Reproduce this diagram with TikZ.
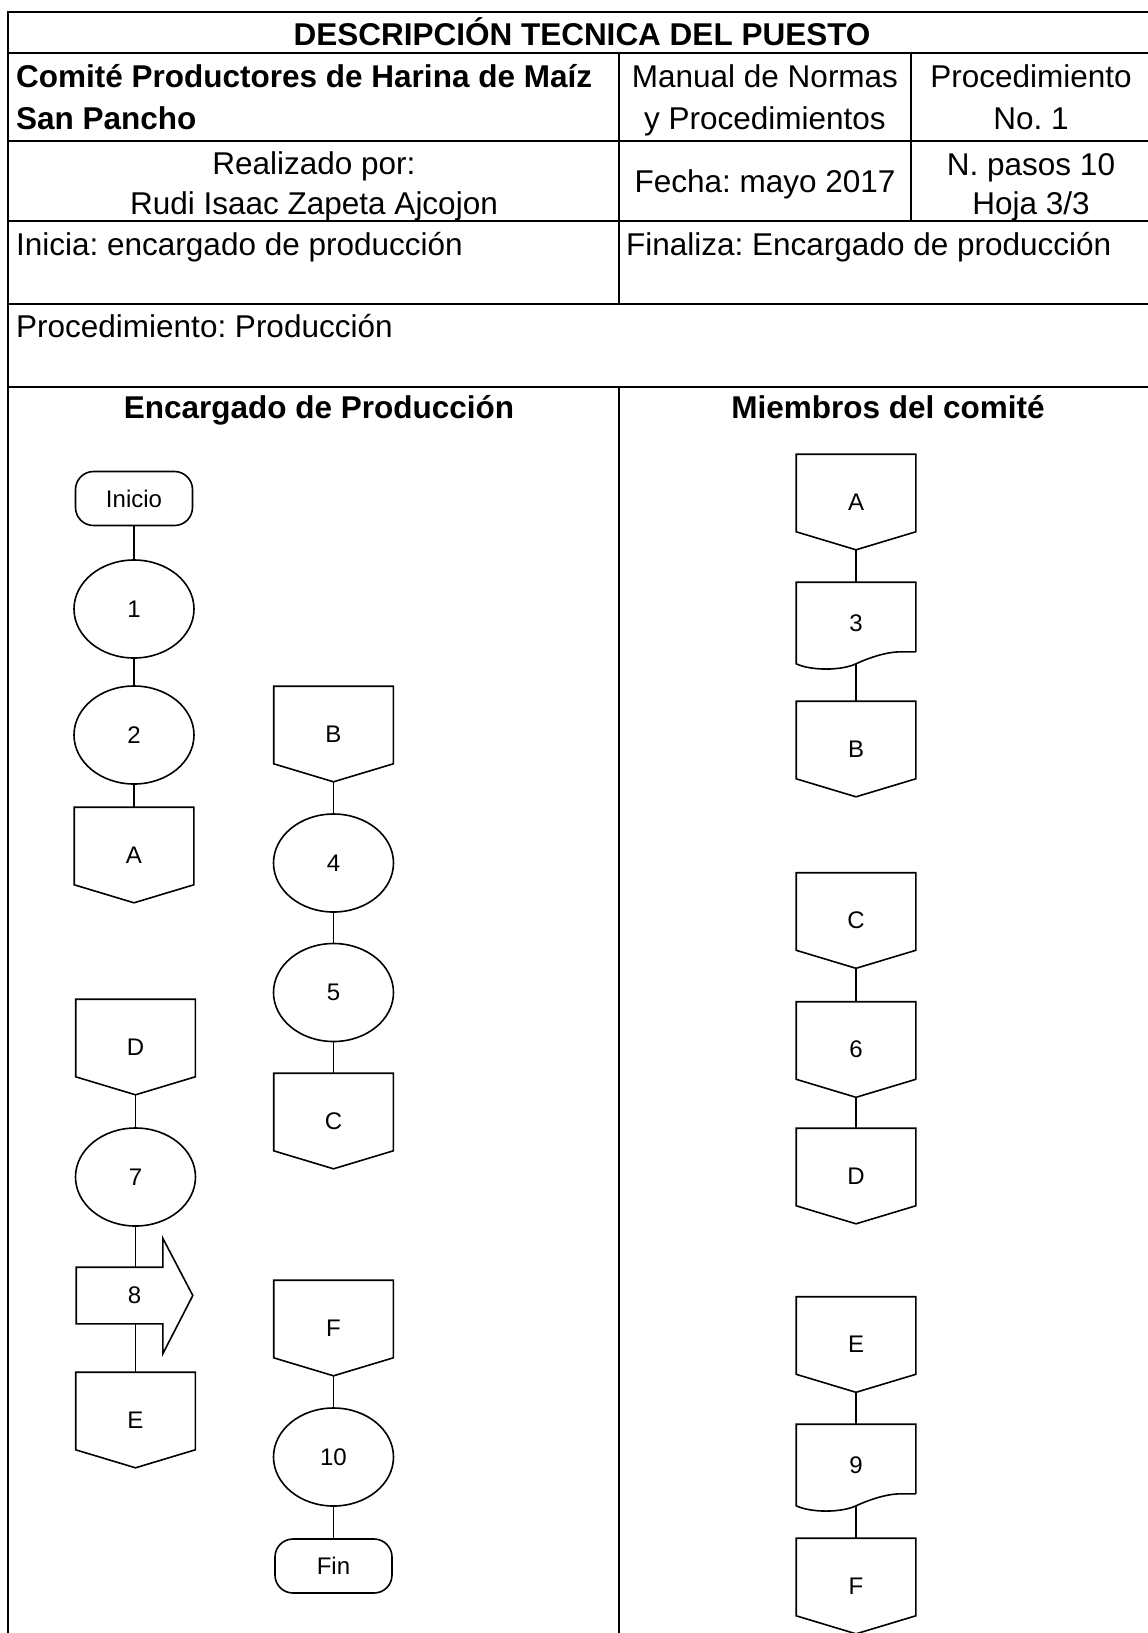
\documentclass[tikz,border=0pt]{standalone}
\usepackage{fontspec}
\setmainfont{Liberation Sans}
\frenchspacing
\usetikzlibrary{shapes.geometric}

\tikzset{
  tabla/.style={line width=2.3pt},
  celda/.style={inner sep=0pt, font=\fontsize{31.5}{38}\selectfont},
  negrita/.style={inner sep=0pt, font=\fontsize{31.5}{38}\selectfont\bfseries},
  forma/.style={draw, line width=1.6pt, inner sep=0pt, font=\fontsize{24}{29}\selectfont},
  linea/.style={line width=1.6pt},
  proceso/.style={forma, ellipse, minimum width=120pt, minimum height=98pt},
  terminal/.style={forma, rounded corners=18pt, minimum width=117pt, minimum height=54pt},
  conector/.style={forma, draw=none, minimum width=118pt, minimum height=94pt,
    append after command={\pgfextra{\draw[linea]
      (\tikzlastnode.north west) -- (\tikzlastnode.north east)
      -- ([yshift=18pt]\tikzlastnode.south east) -- (\tikzlastnode.south)
      -- ([yshift=18pt]\tikzlastnode.south west) -- cycle;}}},
  documento/.style={forma, draw=none, minimum width=118pt, minimum height=80pt,
    append after command={\pgfextra{\draw[linea]
      ([yshift=12pt]\tikzlastnode.south east) -- (\tikzlastnode.north east)
      -- (\tikzlastnode.north west) -- (\tikzlastnode.south west)
      .. controls ([xshift=-45pt,yshift=-7pt]\tikzlastnode.south) and ([xshift=-15pt,yshift=-7pt]\tikzlastnode.south) .. (\tikzlastnode.south)
      .. controls ([xshift=12pt,yshift=5.6pt]\tikzlastnode.south) and ([xshift=30pt,yshift=12pt]\tikzlastnode.south) .. ([xshift=45pt,yshift=12pt]\tikzlastnode.south)
      -- ([yshift=12pt]\tikzlastnode.south east);}}},
  flecha/.style={forma, draw=none, minimum width=115pt, minimum height=55pt,
    append after command={\pgfextra{\draw[linea]
      (\tikzlastnode.north west) -- ([xshift=-30pt]\tikzlastnode.north east)
      -- ([xshift=-30pt,yshift=29pt]\tikzlastnode.north east) -- (\tikzlastnode.east)
      -- ([xshift=-30pt,yshift=-30pt]\tikzlastnode.south east) -- ([xshift=-30pt]\tikzlastnode.south east)
      -- (\tikzlastnode.south west) -- cycle;}}}
}

\begin{document}
\begin{tikzpicture}[x=1pt,y=-1pt]
\useasboundingbox (0,0) rectangle (1148,1633);

% tabla
\draw[tabla] (1148,12) -- (8,12) -- (8,1633);
\draw[tabla] (8,53) -- (1148,53);
\draw[tabla] (8,141) -- (1148,141);
\draw[tabla] (8,221) -- (1148,221);
\draw[tabla] (8,304) -- (1148,304);
\draw[tabla] (8,387) -- (1148,387);
\draw[tabla] (619,53) -- (619,304);
\draw[tabla] (911,53) -- (911,221);
\draw[tabla] (619,387) -- (619,1633);

\node[negrita, anchor=base] (titulo) at (582,45) {DESCRIPCIÓN TECNICA DEL PUESTO};
\node[negrita, anchor=base west] (comite) at (16,87) {Comité Productores de Harina de Maíz};
\node[negrita, anchor=base west] (sanpancho) at (16,129) {San Pancho};
\node[celda, anchor=base] (manual) at (765,87) {Manual de Normas};
\node[celda, anchor=base] (manualb) at (765,129) {y Procedimientos};
\node[celda, anchor=base] (proc) at (1031,87) {Procedimiento};
\node[celda, anchor=base] (procno) at (1031,129) {No. 1};
\node[celda, anchor=base] (realizado) at (314,174) {Realizado por:};
\node[celda, anchor=base] (autor) at (314,214) {Rudi Isaac Zapeta Ajcojon};
\node[celda, anchor=base] (fecha) at (765,192) {Fecha: mayo 2017};
\node[celda, anchor=base] (pasos) at (1031,175) {N. pasos 10};
\node[celda, anchor=base] (hoja) at (1031,214) {Hoja 3/3};
\node[celda, anchor=base west] (inicia) at (16,255) {Inicia: encargado de producción};
\node[celda, anchor=base west] (finaliza) at (626,255) {Finaliza: Encargado de producción};
\node[celda, anchor=base west] (procedimiento) at (16,337) {Procedimiento: Producción};
\node[negrita, anchor=base] (carril1) at (319,418) {Encargado de Producción};
\node[negrita, anchor=base] (carril2) at (888,418) {Miembros del comité};

% encargado de produccion
\node[terminal] (ini) at (134,498.5) {Inicio};
\node[proceso] (p1) at (134,609) {1};
\node[proceso] (p2) at (134,735) {2};
\node[conector] (sa) at (134,855) {A};
\draw[linea] (ini) -- (p1);
\draw[linea] (p1) -- (p2);
\draw[linea] (p2) -- (sa);

\node[conector] (eb) at (333.5,734) {B};
\node[proceso] (p4) at (333.5,863) {4};
\node[proceso] (p5) at (333.5,992.5) {5};
\node[conector] (sc) at (333.5,1121) {C};
\draw[linea] (eb) -- (p4);
\draw[linea] (p4) -- (p5);
\draw[linea] (p5) -- (sc);

\node[conector] (ed) at (135.5,1047) {D};
\node[proceso] (p7) at (135.5,1177) {7};
\node[flecha] (p8) at (134.5,1295.5) {8};
\node[conector] (se) at (135.5,1420) {E};
\draw[linea] (ed) -- (p7);
\draw[linea] (p7.south) -- (p7.south |- p8.north);
\draw[linea] (se.north |- p8.south) -- (se.north);

\node[conector] (ef) at (333.5,1328) {F};
\node[proceso] (p10) at (333.5,1457) {10};
\node[terminal] (fin) at (333.5,1566) {Fin};
\draw[linea] (ef) -- (p10);
\draw[linea] (p10) -- (fin);

% miembros del comite
\node[conector] (ma) at (856,502) {A};
\node[documento] (p3) at (856,623) {3};
\node[conector] (mb) at (856,749) {B};
\draw[linea] (ma) -- (p3);
\draw[linea] (p3) -- (mb);

\node[conector] (mc) at (856,920.5) {C};
\node[conector] (p6) at (856,1049.5) {6};
\node[conector] (md) at (856,1176) {D};
\draw[linea] (mc) -- (p6);
\draw[linea] (p6) -- (md);

\node[conector] (me) at (856,1344.5) {E};
\node[documento] (p9) at (856,1465) {9};
\node[conector] (mf) at (856,1586) {F};
\draw[linea] (me) -- (p9);
\draw[linea] (p9) -- (mf);
\end{tikzpicture}
\end{document}
